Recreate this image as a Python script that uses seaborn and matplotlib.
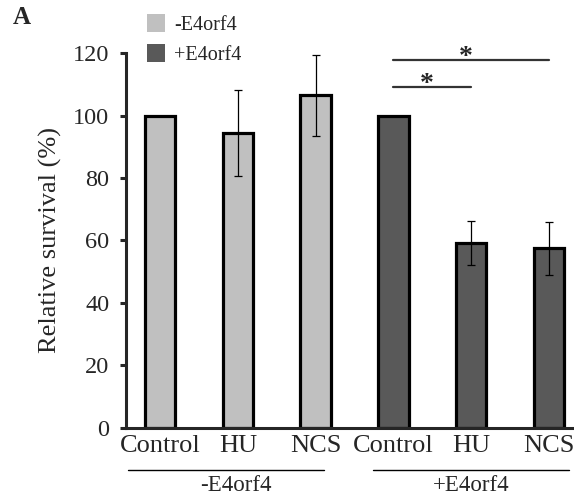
import pandas as pd
import matplotlib.pyplot as plt
import seaborn as sns
from matplotlib.patches import Patch

# data
treatments = ["Control", "HU", "NCS", "Control", "HU", "NCS"]
groups = ["-E4orf4", "-E4orf4", "-E4orf4", "+E4orf4", "+E4orf4", "+E4orf4"]
survival = [100, 94.5, 106.5, 100, 59.2, 57.5]
sem = [0, 13.8, 13.0, 0, 7.0, 8.5]
colors = {"-E4orf4": "#c0c0c0", "+E4orf4": "#595959"}

df = pd.DataFrame({
    "key": [f"{g} {t}" for g, t in zip(groups, treatments)],
    "treatment": treatments,
    "group": groups,
    "survival": survival,
    "sem": sem,
})

sns.set_style("ticks")
plt.rcParams["font.family"] = ["Liberation Serif", "DejaVu Serif"]

fig = plt.figure(figsize=(5.74, 4.97), dpi=100)
ax = fig.add_axes([0.2195, 0.1394, 0.7805, 0.7534])

sns.barplot(data=df, x="key", y="survival", hue="group", palette=colors,
            dodge=False, width=0.39, errorbar=None, legend=False,
            edgecolor="black", linewidth=2.3, ax=ax)

# error bars
for i, row in df.iterrows():
    if row["sem"] > 0:
        ax.errorbar(i, row["survival"], yerr=row["sem"], fmt="none",
                    ecolor="black", elinewidth=0.9, capsize=3, capthick=0.9)

ax.set_xlim(-0.437, 5.32)
ax.set_ylim(0, 120)
ax.set_yticks([0, 20, 40, 60, 80, 100, 120])
ax.tick_params(axis="y", labelsize=17.5, width=2.2, length=4, pad=8)
ax.tick_params(axis="x", labelsize=19, length=0, pad=5)
ax.set_xticks(range(6))
ax.set_xticklabels(treatments)
ax.set_xlabel("")
ax.set_ylabel("Relative survival (%)", fontsize=19, labelpad=8)
for s in ["top", "right"]:
    ax.spines[s].set_visible(False)
for s in ["left", "bottom"]:
    ax.spines[s].set_linewidth(2.2)

# group lines and labels under the x axis
trans = ax.get_xaxis_transform()
for (x0, x1), xc, lab in [((-0.41, 2.11), 0.98, "-E4orf4"), ((2.74, 5.26), 4.0, "+E4orf4")]:
    ax.plot([x0, x1], [-0.113, -0.113], color="black", lw=1, transform=trans, clip_on=False)
    ax.text(xc, -0.155, lab, transform=trans, ha="center", va="center", fontsize=16.5)

# significance brackets
for (x0, x1), y in [((3, 4), 109.3), ((3, 5), 118)]:
    ax.plot([x0, x1], [y, y], color="#333333", lw=1.6, clip_on=False)
    ax.text((x0 + x1) / 2 - 0.07, y - 3.4, "*", ha="center", va="bottom",
            fontsize=20, fontweight="bold", clip_on=False)

# legend
handles = [Patch(facecolor=colors[g], edgecolor="none", label=g) for g in ["-E4orf4", "+E4orf4"]]
fig.legend(handles=handles, loc="upper left", bbox_to_anchor=(0.256, 0.972),
           frameon=False, fontsize=14.5, handlelength=0.9, handleheight=1.0,
           handletextpad=0.45, labelspacing=0.45, borderpad=0, borderaxespad=0)

fig.text(0.022, 0.965, "A", fontsize=18, fontweight="bold", va="center", ha="left")

fig.savefig("out.png", dpi=100)
